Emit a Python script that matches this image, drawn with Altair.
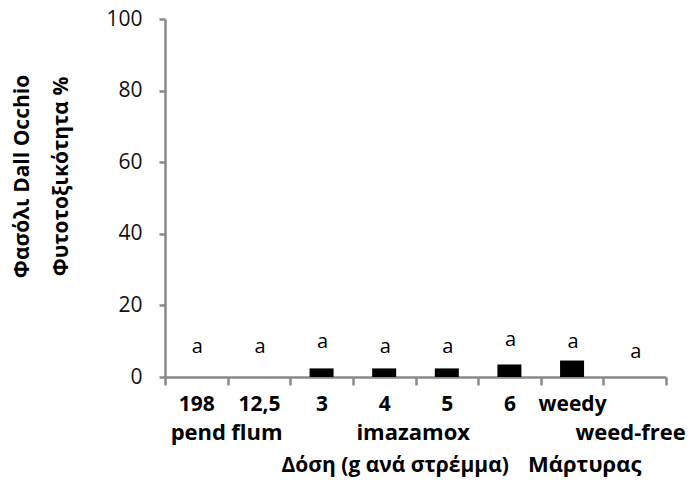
import altair as alt
import pandas as pd

categories = ["198", "12,5", "3", "4", "5", "6", "weedy", "weed-free"]
values = [0, 0, 2.4, 2.4, 2.4, 3.5, 4.6, 0]
letters = ["a", "a", "a", "a", "a", "a", "a", "a"]
letter_pos = [6.8, 6.8, 8.0, 6.8, 6.8, 8.6, 8.2, 5.2]

group_labels = ["pend", "flum", "imazamox", "weed-free"]
group_anchor = ["198", "12,5", "4", "weed-free"]
bottom_labels = ["Δόση (g ανά στρέμμα)", "Μάρτυρας"]
bottom_anchor = ["4", "weed-free"]
y_title = ["Φασόλι Dall Occhio", "Φυτοτοξικότητα %"]

df = pd.DataFrame({"cat": categories, "val": values, "let": letters, "lpos": letter_pos})

FONT = "Open Sans"
GRAY = "#898989"
W, H = 501, 358
LEFT, TOP = 165, 19

xscale = alt.Scale(domain=categories, paddingInner=0, paddingOuter=0)
xenc = alt.X("cat:N", sort=categories, scale=xscale,
             axis=alt.Axis(title=None, labelAngle=0, labelFont=FONT, labelFontSize=21,
                           labelFontWeight="bold", labelColor="black", tickBand="extent",
                           tickSize=8, tickWidth=2.5, tickColor=GRAY, domainColor=GRAY,
                           domainWidth=2.5, labelPadding=8,
                           labelExpr="datum.label == 'weed-free' ? '' : datum.label"))
yscale = alt.Scale(domain=[0, 100])

bars = alt.Chart(df).mark_bar(color="black", width=24).encode(
    x=xenc,
    y=alt.Y("val:Q", scale=yscale,
            axis=alt.Axis(values=[0, 20, 40, 60, 80, 100], grid=False, tickSize=6,
                          tickWidth=2.5, tickColor=GRAY, domainColor=GRAY, domainWidth=2.5,
                          labelFont=FONT, labelFontSize=21, labelColor="#111111",
                          labelPadding=17, title=y_title, titleFont=FONT,
                          titleFontSize=21, titleFontWeight="bold", titleColor="black",
                          titleAngle=-90, titleAlign="center", titleBaseline="middle",
                          titleLineHeight=39, titleX=22 - LEFT, titleY=176 - TOP)),
)

lets = alt.Chart(df).mark_text(dx=1, baseline="alphabetic", font=FONT, fontSize=20,
                               color="black").encode(
    x=alt.X("cat:N", sort=categories, scale=xscale),
    y=alt.Y("lpos:Q", scale=yscale),
    text="let:N",
)

dx2 = [2, -2, 29, -4]
row2 = []
for lab, anc, dx in zip(group_labels, group_anchor, dx2):
    row2.append(
        alt.Chart(pd.DataFrame({"cat": [anc], "lab": [lab]})).mark_text(
            dx=dx, baseline="alphabetic", font=FONT, fontSize=22, fontWeight="bold",
            color="black").encode(
            x=alt.X("cat:N", sort=categories, scale=xscale),
            y=alt.value(440 - TOP), text="lab:N")
    )

dx3 = [11, -50]
fs3 = [21, 22]
row3 = []
for lab, anc, dx, fs in zip(bottom_labels, bottom_anchor, dx3, fs3):
    row3.append(
        alt.Chart(pd.DataFrame({"cat": [anc], "lab": [lab]})).mark_text(
            dx=dx, baseline="alphabetic", font=FONT, fontSize=fs, fontWeight="bold",
            color="black").encode(
            x=alt.X("cat:N", sort=categories, scale=xscale),
            y=alt.value(472 - TOP), text="lab:N")
    )

chart = alt.layer(bars, lets, *row2, *row3).properties(
    width=W, height=H,
    autosize=alt.AutoSizeParams(type="none"),
    padding={"left": LEFT, "top": TOP, "right": 697 - LEFT - W, "bottom": 485 - TOP - H},
).configure_view(stroke=None)

chart.save("out.html", embed_options={"renderer": "svg", "actions": False})
